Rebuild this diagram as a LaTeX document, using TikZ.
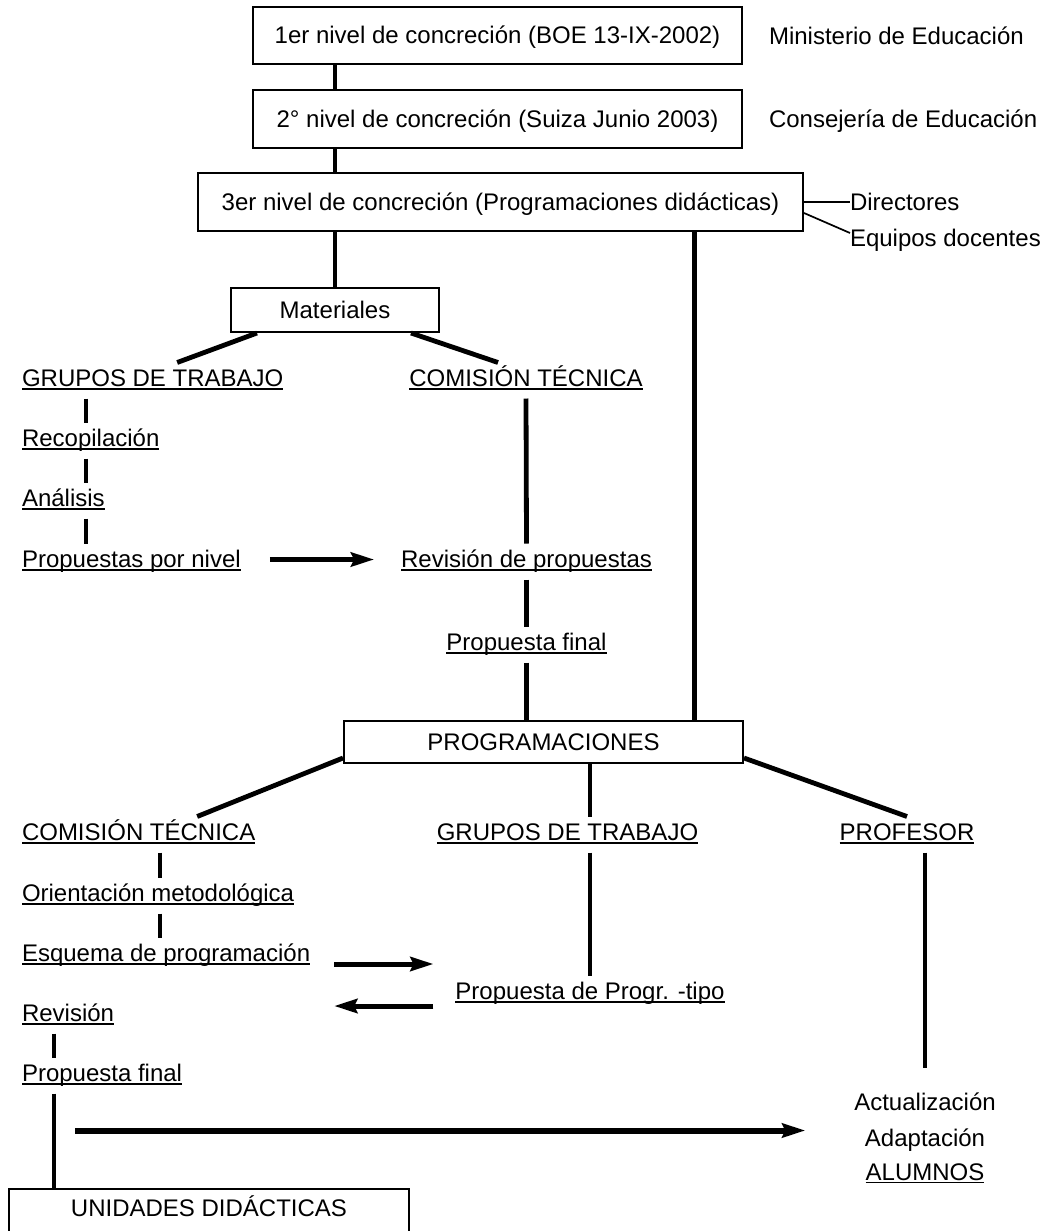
\documentclass[tikz,border=0pt]{standalone}
\usepackage{fontspec}
\setmainfont{Liberation Sans}
\usetikzlibrary{arrows.meta}

\newsavebox\ulbox
\newcommand\ulin[1]{\sbox\ulbox{#1}\rlap{\rule[-1.6pt]{\wd\ulbox}{0.7pt}}\usebox\ulbox}

\tikzset{
  nivel/.style={draw, line width=1pt, inner sep=0pt, text height=8.4pt, text depth=0pt, font=\fontsize{12}{14}\selectfont},
  etiq/.style={inner sep=0pt, outer sep=3pt, text height=9pt, text depth=3pt, font=\fontsize{12}{14}\selectfont},
  lado/.style={etiq, outer sep=0pt, anchor=base west},
  enlace/.style={line width=2.4pt},
  fino/.style={line width=0.85pt},
  flecha/.style={line width=2.5pt, -{Stealth[length=11.5pt,width=7pt,inset=1.5pt]}},
}

\begin{document}
\begin{tikzpicture}[x=0.5pt,y=-0.5pt]
\useasboundingbox (0,0) rectangle (1052,1231);
\clip (0,0) rectangle (1052,1231);

% niveles de concrecion
\node[nivel, minimum width=244.5pt, minimum height=28.5pt] (niv1) at (497.5,35.5) {1er nivel de concreción (BOE 13-IX-2002)};
\node[nivel, minimum width=244.5pt, minimum height=29pt] (niv2) at (497.5,119) {2° nivel de concreción (Suiza Junio 2003)};
\node[nivel, minimum width=302.5pt, minimum height=29pt] (niv3) at (500.5,202) {3er nivel de concreción (Programaciones didácticas)};
\node[lado] (min) at (769,44.5) {Ministerio de Educación};
\node[lado] (con) at (769,127.5) {Consejería de Educación};
\node[lado] (dir) at (850,210.5) {Directores};
\node[lado] (equ) at (850,246.5) {Equipos docentes};

% materiales
\node[nivel, minimum width=104pt, minimum height=22pt] (mat) at (335,310) {Materiales};
\node[etiq, anchor=base west] (gtit) at (16,386.5) {\ulin{GRUPOS DE TRABAJO}};
\node[etiq, anchor=base west] (grec) at (16,446.5) {\ulin{Recopilación}};
\node[etiq, anchor=base west] (gana) at (16,506.5) {\ulin{Análisis}};
\node[etiq, anchor=base west] (gpro) at (16,567.5) {\ulin{Propuestas por nivel}};
\node[etiq, anchor=base] (cttit) at (526,386.5) {\ulin{COMISIÓN TÉCNICA}};
\node[etiq, anchor=base] (crev) at (526.5,567.5) {\ulin{Revisión de propuestas}};
\node[etiq, anchor=base] (cfin) at (526.5,650.5) {\ulin{Propuesta final}};

% programaciones
\node[nivel, minimum width=199.5pt, minimum height=21pt] (prog) at (543.5,742) {PROGRAMACIONES};
\node[etiq, anchor=base west] (ct2) at (16,840.5) {\ulin{COMISIÓN TÉCNICA}};
\node[etiq, anchor=base west] (cori) at (16,901.5) {\ulin{Orientación metodológica}};
\node[etiq, anchor=base west] (cesq) at (16,961.5) {\ulin{Esquema de programación}};
\node[etiq, anchor=base west] (crev2) at (16,1021.5) {\ulin{Revisión}};
\node[etiq, anchor=base west] (cfin2) at (16,1081.5) {\ulin{Propuesta final}};
\node[etiq, anchor=base] (gt2) at (567.5,840.5) {\ulin{GRUPOS DE TRABAJO}};
\node[etiq, anchor=base] (ptipo) at (590,999.5) {\ulin{Propuesta de Progr. -tipo}};
\node[etiq, anchor=base] (prof) at (907,840.5) {\ulin{PROFESOR}};
\node[etiq, anchor=base] (act) at (925,1110) {Actualización};
\node[etiq, anchor=base] (adap) at (925,1146) {Adaptación};
\node[etiq, anchor=base] (alum) at (925,1180) {\ulin{ALUMNOS}};
\node[nivel, text depth=6pt, minimum width=200pt, minimum height=25pt] (unid) at (209,1214) {UNIDADES DIDÁCTICAS};
\coordinate (lini) at (75,1130.5);

% enlaces
\draw[enlace] (niv1.south -| mat.north) -- (niv2.north -| mat.north);
\draw[enlace] (niv2.south -| mat.north) -- (niv3.north -| mat.north);
\draw[enlace] (niv3.south -| mat.north) -- (mat.north);
\draw[enlace] ([xshift=97pt]niv3.south) -- ([xshift=97pt]niv3.south |- prog.north);
\draw[fino] (niv3.east) -- (niv3.east -| dir.west);
\draw[fino] ([yshift=-5.5pt]niv3.east) -- ([yshift=3.75pt]equ.west);

\draw[enlace] ([xshift=13.5pt]mat.south west) -- ([xshift=12.25pt]gtit.north);
\draw[enlace] ([xshift=-14.5pt]mat.south east) -- ([xshift=-14pt]cttit.north);
\draw[enlace] ([xshift=35pt]gtit.south west) -- ([xshift=35pt]grec.north west);
\draw[enlace] ([xshift=35pt]grec.south west) -- ([xshift=35pt]gana.north west);
\draw[enlace] ([xshift=35pt]gana.south west) -- ([xshift=35pt]gpro.north west);
\draw[enlace] (cttit.south) -- (crev.north);
\draw[enlace] (crev.south) -- (cfin.north);
\draw[enlace] (cfin.south) -- (cfin.south |- prog.north);
\draw[flecha, shorten <=11.5pt, shorten >=10.5pt] ([yshift=1pt]gpro.east) -- ([yshift=1pt]crev.west);

\draw[enlace] ([yshift=3pt]prog.south west) -- ([xshift=29.25pt]ct2.north);
\draw[enlace] (prog.south -| ptipo.north) -- (gt2.north -| ptipo.north);
\draw[enlace] ([yshift=3pt]prog.south east) -- (prof.north);
\draw[enlace] ([xshift=72pt]ct2.south west) -- ([xshift=72pt]cori.north west);
\draw[enlace] ([xshift=72pt]cori.south west) -- ([xshift=72pt]cesq.north west);
\draw[enlace] ([xshift=19pt]crev2.south west) -- ([xshift=19pt]cfin2.north west);
\draw[enlace] ([xshift=19pt]cfin2.south west) -- ([xshift=19pt]cfin2.south west |- unid.north);
\draw[enlace] (gt2.south -| ptipo.north) -- (ptipo.north);
\draw[enlace] (prof.south -| act.north) -- ([yshift=9pt]act.north);
\draw[flecha, shorten <=9pt, shorten >=8pt] ([yshift=-4.25pt]cesq.east) -- ([yshift=-4.25pt]cesq.east -| ptipo.west);
\draw[flecha, shorten <=8pt, shorten >=9pt] ([yshift=-6.25pt]ptipo.west) -- ([yshift=-6.25pt]ptipo.west -| cesq.east);
\draw[flecha, line width=3pt, shorten >=21.5pt] (lini) -- (lini -| act.west);

\end{tikzpicture}
\end{document}
